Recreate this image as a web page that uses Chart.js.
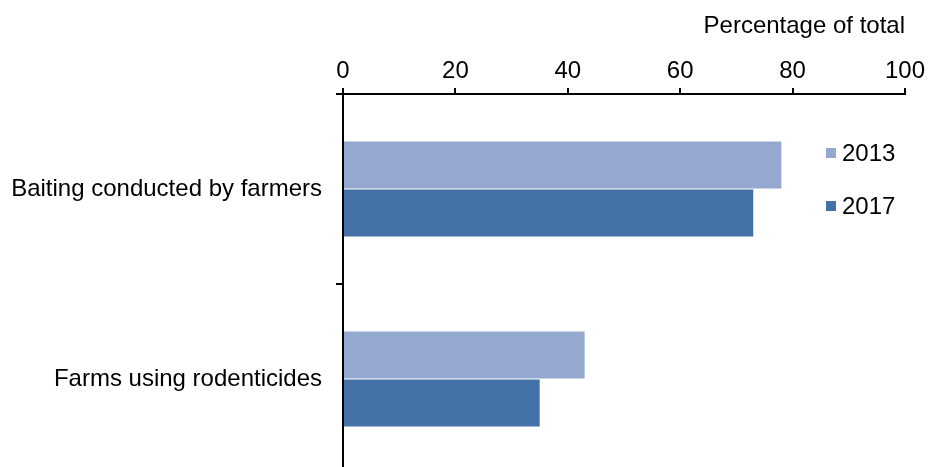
<!DOCTYPE html>
<html lang="en">
<head>
  <meta charset="UTF-8" />
  <title>Baiting and rodenticide use</title>
  <script src="https://cdn.jsdelivr.net/npm/chart.js"></script>
  <style>
    html, body { margin: 0; padding: 0; background: #fff; overflow: hidden; }
    #wrap { width: 929px; height: 467px; overflow: hidden; }
  </style>
</head>
<body>
  <!-- canvas is a bit taller than the window: the bottom axis end is cut off like in the original -->
  <div id="wrap"><canvas id="chart" width="929" height="474"></canvas></div>

  <script>
    // data
    const categories = ['Baiting conducted by farmers', 'Farms using rodenticides'];
    const seriesNames = ['2013', '2017'];
    const values2013 = [78, 43];
    const values2017 = [73, 35];
    const xTicks = [0, 20, 40, 60, 80, 100];

    const FONT = { family: 'Liberation Sans, Arial, sans-serif', size: 24 };

    // legend drawn inside the plot, to the right of the bars
    const sideLegend = {
      id: 'sideLegend',
      afterDraw(chart) {
        const ctx = chart.ctx;
        ctx.save();
        ctx.font = FONT.size + 'px ' + FONT.family;
        ctx.textBaseline = 'middle';
        ctx.textAlign = 'left';
        const rows = [153, 206];
        chart.data.datasets.forEach((ds, i) => {
          ctx.fillStyle = ds.backgroundColor;
          ctx.fillRect(826, rows[i] - 5, 10, 10);
          ctx.fillStyle = '#000';
          ctx.fillText(ds.label, 842, rows[i] + 1);
        });
        ctx.restore();
      }
    };

    new Chart(document.getElementById('chart'), {
      type: 'bar',
      data: {
        labels: categories,
        datasets: [
          { label: seriesNames[0], data: values2013, backgroundColor: '#95A9D0' },
          { label: seriesNames[1], data: values2017, backgroundColor: '#4472A8' }
        ]
      },
      options: {
        indexAxis: 'y',
        responsive: false,
        animation: false,
        layout: { padding: { left: 0, right: 24, top: 0, bottom: 0 } },
        datasets: {
          bar: { categoryPercentage: 0.505, barPercentage: 0.98 }
        },
        plugins: {
          legend: { display: false },
          tooltip: { enabled: false }
        },
        scales: {
          x: {
            position: 'top',
            min: 0,
            max: 100,
            afterBuildTicks(scale) {
              scale.ticks = xTicks.map(v => ({ value: v }));
            },
            afterFit(scale) {
              scale.height = 94;
              scale.paddingLeft = 0;
              scale.paddingRight = 0;
            },
            border: { display: true, color: '#000', width: 2 },
            grid: { drawOnChartArea: false, color: '#000', tickLength: 6, lineWidth: 2 },
            ticks: { color: '#000', font: FONT, padding: 2, maxRotation: 0 },
            title: {
              display: true,
              text: 'Percentage of total',
              align: 'end',
              color: '#000',
              font: FONT,
              padding: { top: 12, bottom: 0 }
            }
          },
          y: {
            afterFit(scale) {
              scale.width = 343;
              scale.paddingTop = 0;
              scale.paddingBottom = 0;
            },
            border: { display: true, color: '#000', width: 2 },
            grid: { drawOnChartArea: false, color: '#000', tickLength: 7, lineWidth: 2, offset: true },
            ticks: { color: '#000', font: FONT, padding: 14 }
          }
        }
      },
      plugins: [sideLegend]
    });
  </script>
</body>
</html>
